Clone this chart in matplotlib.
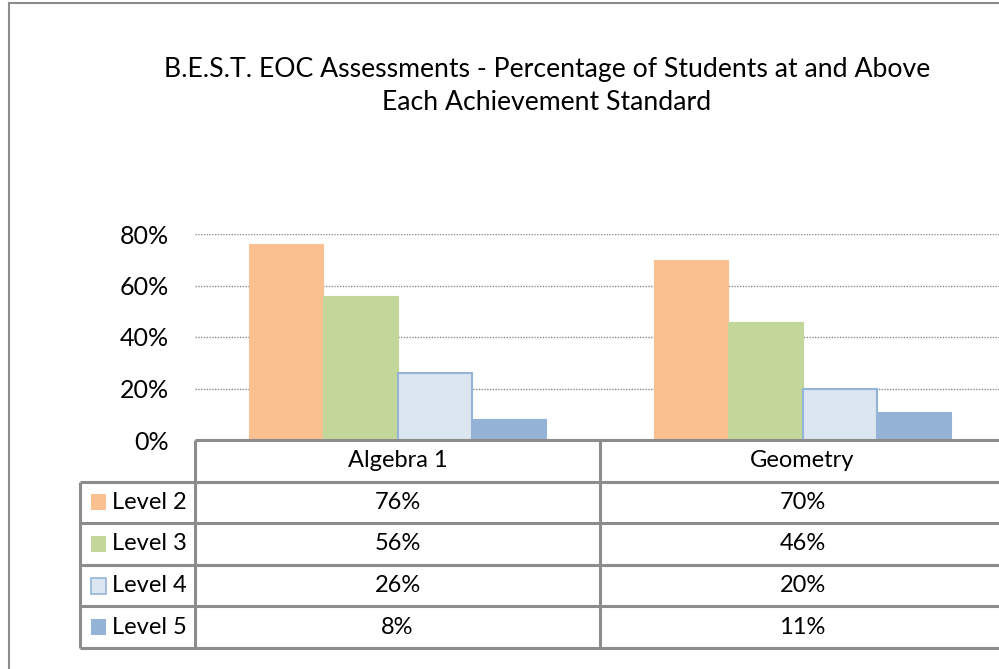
import matplotlib.pyplot as plt
import numpy as np
from matplotlib.patches import Rectangle

plt.rcParams["font.family"] = ["Lato", "DejaVu Sans"]

title = "B.E.S.T. EOC Assessments - Percentage of Students at and Above\nEach Achievement Standard"
subjects = ["Algebra 1", "Geometry"]
levels = ["Level 2", "Level 3", "Level 4", "Level 5"]
level2 = [76, 70]
level3 = [56, 46]
level4 = [26, 20]
level5 = [8, 11]
yticks = [0, 20, 40, 60, 80]

series = [level2, level3, level4, level5]
fills = ["#FAC090", "#C4D79B", "#DCE6F1", "#95B3D7"]
edges = ["#FAC090", "#C4D79B", "#95B3D7", "#95B3D7"]
grid_col = "#8C8C8C"
line_col = "#8C8C8C"

W, H = 999, 669
fig = plt.figure(figsize=(W / 100, H / 100), dpi=100)


def fx(px):
    return px / W


def fy(py):
    return 1 - py / H


# outer chart border (cropped on right and bottom)
fig.add_artist(plt.Line2D([fx(9), fx(9)], [fy(3), 0], color=line_col, lw=1.5))
fig.add_artist(plt.Line2D([fx(9), 1], [fy(3), fy(3)], color=line_col, lw=1.5))

fig.text(fx(547), fy(86), title, ha="center", va="center", fontsize=19.2,
         linespacing=1.38)

# bar axes
left, right = 195, 1005
ax = fig.add_axes([fx(left), fy(440), fx(right - left), fy(234) - fy(440)])
n = len(series)
width = 0.183
x = np.arange(len(subjects)) + 0.5
for i, (vals, fc, ec) in enumerate(zip(series, fills, edges)):
    lw = 1.5 if i == 2 else 0.8
    ax.bar(x + (i - (n - 1) / 2) * width, vals, width, color=fc,
           edgecolor=ec, linewidth=lw, zorder=3)
ax.set_xlim(0, 2)
ax.set_ylim(0, 80)
ax.set_yticks(yticks)
ax.set_yticklabels([f"{t}%" for t in yticks], fontsize=18)
ax.tick_params(axis="y", length=0, pad=19)
ax.set_xticks([])
for t in yticks[1:]:
    ax.axhline(t, color=grid_col, lw=1, ls=(0, (1, 1)), zorder=1)
for s in ax.spines.values():
    s.set_visible(False)
ax.patch.set_alpha(0)

# data table
tleft = 80
leg_w = (left - tleft) / 405
tab = fig.add_axes([fx(tleft), fy(648), fx(right - tleft), fy(440) - fy(648)])
tab.set_xlim(-leg_w, 2)
tab.set_ylim(5, 0)
tab.axis("off")
lkw = dict(color=line_col, lw=2.2, solid_capstyle="butt", clip_on=False)
tab.plot([0, 2], [0, 0], **lkw)
for r in range(1, 6):
    tab.plot([-leg_w, 2], [r, r], **lkw)
for c in [0, 1]:
    tab.plot([c, c], [0, 5], **lkw)
tab.plot([-leg_w, -leg_w], [1, 5], **lkw)

for j, name in enumerate(subjects):
    tab.text(j + 0.5, 0.5, name, ha="center", va="center", fontsize=17)
for i, (lev, vals) in enumerate(zip(levels, series)):
    tab.add_patch(Rectangle((-leg_w + 0.027, i + 1.31), 0.036, 0.38,
                            facecolor=fills[i], edgecolor=edges[i],
                            lw=1.2 if i == 2 else 0))
    tab.text(-leg_w + 0.078, i + 1.5, lev, ha="left", va="center",
             fontsize=17)
    for j, v in enumerate(vals):
        tab.text(j + 0.5, i + 1.5, f"{v}%", ha="center", va="center",
                 fontsize=17)

fig.savefig("out.png", dpi=100)
